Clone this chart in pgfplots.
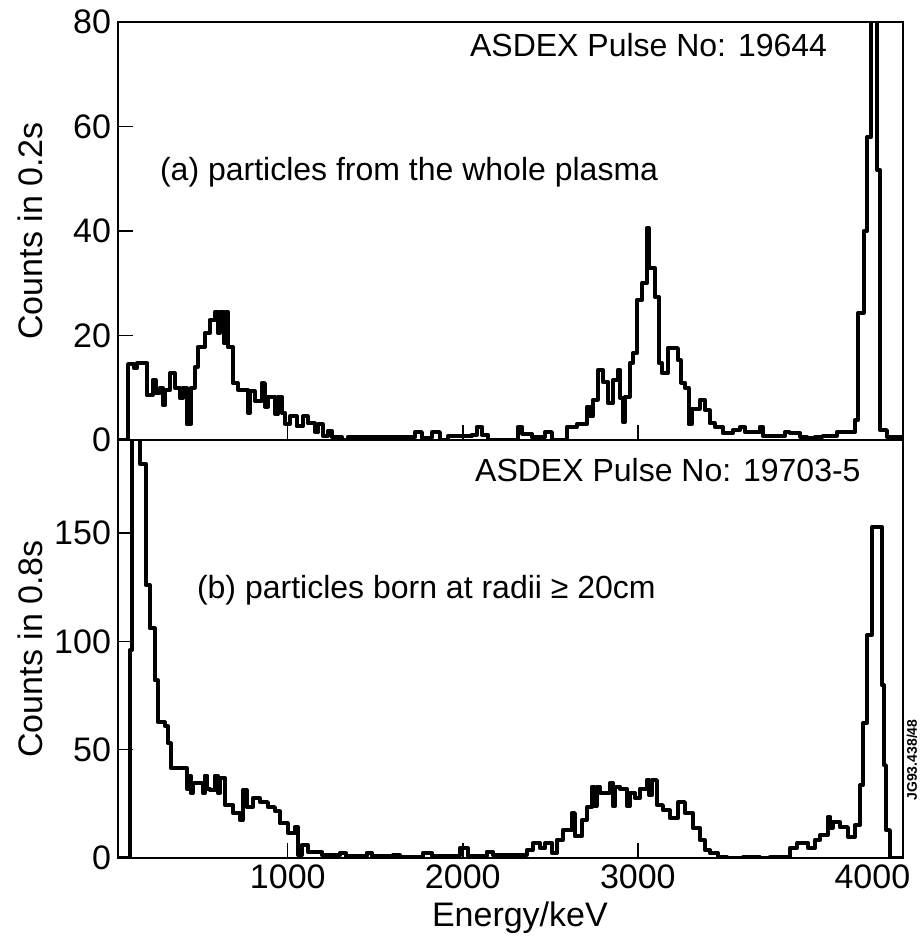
\documentclass[border=0pt]{standalone}
\usepackage{pgfplots}
\pgfplotsset{compat=1.18}
\usepackage{fontspec}
\setmainfont{Liberation Sans}

\pgfplotstableread{
E v
30 0
85 0
90 14.5
120 13.8
140 14.8
194 8.6
228 11.5
245 9
269 10
285 6.7
300 9.5
326 12.8
354 10
383 8
400 10
423 3
446 10
469 14
486 17.8
526 20.4
554 23
583 24.5
600 20.5
615 24.5
635 18.5
645 24.5
657 17.8
686 10.9
714 9.6
771 5.2
785 9.4
810 7.5
851 10.9
869 6.4
886 8.3
926 5
946 8.3
966 5.2
985 3.0
1011 4.5
1051 2.6
1086 4.5
1114 3.2
1154 1.5
1175 3
1200 0.8
1229 1.8
1250 0.6
1309 0
1343 0.6
1554 0.6
1611 0.5
1726 1.5
1766 0.4
1823 1.5
1869 0
1914 0.7
2051 1.0
2080 2.5
2110 1.0
2143 0
2314 2.5
2340 1.2
2394 0.5
2469 1.5
2509 0
2594 2.5
2651 3
2709 6.4
2725 4.5
2743 7.7
2771 13.4
2800 11.1
2829 7
2857 11.4
2886 13.4
2900 8
2914 3.4
2926 8.3
2954 14.7
2971 16.6
2994 26.8
3023 30
3051 40.5
3065 33
3080 32.9
3097 27.4
3120 14.7
3137 12.8
3171 17.6
3229 15.3
3245 11
3269 10
3290 3
3309 6
3354 7.7
3383 5.7
3411 3.2
3440 2.5
3486 1.3
3543 1.9
3583 2.5
3611 1.5
3697 2.5
3714 0.8
3840 1.5
3869 1.3
3926 0.6
3966 0.3
4011 0.6
4057 0.8
4137 1.5
4240 3.8
4257 24.3
4290 40
4310 58
4332 100
4366 51.7
4383 1.9
4423 0.6
4515 0.6
}\specA

\pgfplotstableread{
E v
30 0
95 0
97 96
109 200
154 182
189 126
211 106
240 82
257 62.7
297 61
314 53
331 41.5
423 32
435 38
445 30
457 34.6
514 30
525 38
540 32
554 31.3
583 38
600 30
615 37
640 24.4
686 20.7
726 17.5
743 31.3
766 23.5
800 27.6
840 25.8
886 23.5
926 21.6
954 16
1000 11.5
1040 14.3
1057 1.4
1080 6
1114 2.8
1194 1.4
1300 2.5
1330 1
1450 2.5
1480 1
1600 1.5
1640 0.5
1771 2.3
1823 1
1983 4.5
2029 1
2137 3
2171 1.5
2366 3.7
2400 6.9
2440 4.5
2470 7
2509 2.3
2537 8.3
2571 12.9
2623 20.7
2640 10
2680 17.5
2709 23.5
2737 33
2750 24
2765 33
2783 30
2840 34.6
2857 24
2870 33
2897 32
2937 24
2955 30
2983 27.6
3011 32
3051 36
3065 29
3080 36
3109 24.4
3143 22
3183 18.4
3229 25.8
3269 20.7
3314 13.8
3354 8.3
3383 3.7
3411 2.3
3457 0.5
3509 0
3600 0.3
3697 0
3754 0.5
3869 4.6
3909 6.9
3971 4.6
4011 8.3
4040 10.6
4086 19
4100 14
4114 16.6
4154 14.3
4200 9.7
4240 15.2
4269 33.6
4286 62.2
4309 102.8
4337 153
4394 79.7
4406 42.9
4417 12.9
4440 0
4515 0
}\specB

\begin{document}
\begin{tikzpicture}
\path[use as bounding box] (-59pt,-42.5pt) rectangle (401.5pt,429pt);
\pgfplotsset{
  every axis/.append style={
    scale only axis, width=392.5pt, height=209pt,
    xmin=30, xmax=4515,
    axis line style={line width=0.7pt},
    tick align=inside, xtick pos=left, ytick pos=left,
    major tick length=7.5pt,
    tick style={line width=0.7pt, black},
    /pgf/number format/assume math mode=true,
    /pgf/number format/1000 sep={},
    ticklabel style={font=\fontsize{17}{20}\selectfont},
    label style={font=\fontsize{17}{20}\selectfont},
    xtick={1000,2000,3000},
  },
  spec/.style={const plot, black, line width=2pt, line join=round, mark=none},
}
\begin{axis}[name=b, at={(0,0)}, anchor=south west,
  ymin=0, ymax=193, ytick={0,50,100,150},
  extra x ticks={4340}, extra x tick labels={4000},
  extra x tick style={major tick length=0pt},
  xlabel={Energy/keV}, ylabel={Counts in 0.8s},
  xlabel style={at={(axis description cs:0.512,-0.1435)}, anchor=center},
  ylabel style={at={(axis description cs:-0.112,0.5)}, anchor=center},
]
\addplot[spec] table[x=E,y=v] {\specB};
\node[anchor=west, font=\fontsize{16}{19}\selectfont] at (axis description cs:0.446,0.928) {ASDEX Pulse No: 19703-5};
\node[anchor=west, font=\fontsize{16}{19}\selectfont] at (axis description cs:0.0917,0.641) {(b) particles born at radii ≥ 20cm};
\end{axis}
\begin{axis}[name=a, at={(0,209pt)}, anchor=south west,
  ymin=0, ymax=80, ytick={0,20,40,60,80},
  xticklabels={,,},
  ylabel={Counts in 0.2s},
  ylabel style={at={(axis description cs:-0.112,0.5)}, anchor=center},
]
\addplot[spec] table[x=E,y=v] {\specA};
\node[anchor=west, font=\fontsize{16}{19}\selectfont] at (axis description cs:0.4395,0.945) {ASDEX Pulse No: 19644};
\node[anchor=west, font=\fontsize{16}{19}\selectfont] at (axis description cs:0.0446,0.641) {(a) particles from the whole plasma};
\end{axis}
\node[rotate=90, inner sep=0pt, font=\bfseries\fontsize{7}{8}\selectfont] at (397pt,49pt) {JG93.438/48};
\end{tikzpicture}
\end{document}
